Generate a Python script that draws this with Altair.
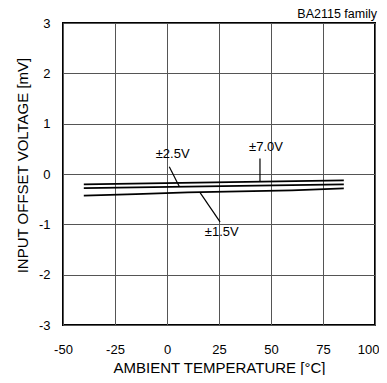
import altair as alt
import pandas as pd

# Data
temp_25 = [-40, 85]
vos_25 = [-0.28, -0.205]          # ±2.5V
temp_70 = [-40, 85]
vos_70 = [-0.205, -0.125]         # ±7.0V
temp_15 = [-40, -15, 10, 60, 85]
vos_15 = [-0.43, -0.40, -0.365, -0.325, -0.285]  # ±1.5V

label_text = ["±2.5V", "±7.0V", "±1.5V"]
label_x = [2.7, 47.6, 26.3]
label_y = [0.40, 0.53, -1.15]

leader_x = [1.1, 44.7, 15.9]
leader_y = [0.145, 0.31, -0.37]
leader_x2 = [5.9, 44.7, 25.5]
leader_y2 = [-0.25, -0.15, -0.95]

x_ticks = [-50, -25, 0, 25, 50, 75, 100]
y_ticks = [-3, -2, -1, 0, 1, 2, 3]

rows = []
for s, t, v in [("2.5", temp_25, vos_25), ("7.0", temp_70, vos_70), ("1.5", temp_15, vos_15)]:
    for a, b in zip(t, v):
        rows.append({"series": s, "temp": a, "vos": b})
df = pd.DataFrame(rows)
lab = pd.DataFrame({"text": label_text, "x": label_x, "y": label_y})
lead = pd.DataFrame({"x": leader_x, "y": leader_y, "x2": leader_x2, "y2": leader_y2})

FONT = "Liberation Sans"
xs = alt.Scale(domain=[-50, 100], nice=False)
ys = alt.Scale(domain=[-3, 3], nice=False)

lines = alt.Chart(df).mark_line(color="black", strokeWidth=1.8).encode(
    x=alt.X("temp:Q", scale=xs, title="AMBIENT TEMPERATURE [°C]",
            axis=alt.Axis(values=x_ticks, grid=True, tickSize=0, labelPadding=18.5,
                          titlePadding=4, domain=False, labelFlush=False,
                          labelOverlap=False, labelBound=False,
                          labelAlign=alt.condition("datum.value == 100", alt.value("right"), alt.value("center")),
                          labelOffset=alt.condition("datum.value == 100", alt.value(4), alt.value(0)),
                          labelExpr="toString(datum.value)")),
    y=alt.Y("vos:Q", scale=ys, title="INPUT OFFSET VOLTAGE [mV]",
            axis=alt.Axis(values=y_ticks, grid=True, tickSize=0, labelPadding=13,
                          titlePadding=8, domain=False, titleY=142,
                          labelFlush=False, labelOverlap=False,
                          labelExpr="toString(datum.value)")),
    detail="series:N",
)

leaders = alt.Chart(lead).mark_rule(color="black", strokeWidth=1.2).encode(
    x="x:Q", y="y:Q", x2="x2:Q", y2="y2:Q"
)

labels = alt.Chart(lab).mark_text(font=FONT, fontSize=13, color="black").encode(
    x="x:Q", y="y:Q", text="text:N"
)

family = alt.Chart(pd.DataFrame({"t": ["BA2115 family"]})).mark_text(
    font=FONT, fontSize=12.5, color="black", align="right", baseline="alphabetic"
).encode(x=alt.value(314), y=alt.value(-5), text="t:N")

chart = alt.layer(lines, leaders, labels, family).properties(
    width=312, height=302,
    autosize=alt.AutoSizeParams(type="none"),
    padding={"left": 55, "top": 15, "right": 4, "bottom": 50},
).configure_view(stroke="black", strokeWidth=2).configure_axis(
    labelFont=FONT, titleFont=FONT, labelFontSize=13, titleFontSize=15,
    labelColor="black", titleColor="black", titleFontWeight="normal",
    gridColor="#555", gridWidth=1, gridOpacity=1,
)

chart.save("out.html", embed_options={"renderer": "svg", "actions": False})
